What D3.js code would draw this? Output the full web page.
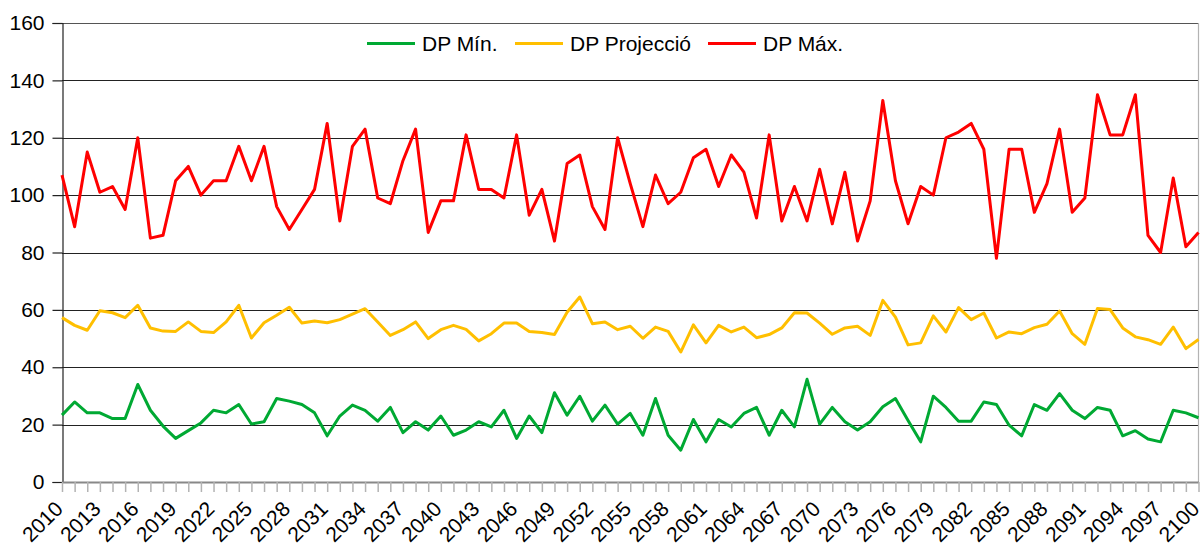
<!DOCTYPE html>
<html>
<head>
<meta charset="utf-8">
<script src="https://cdn.jsdelivr.net/npm/d3@7/dist/d3.min.js"></script>
<style>
  html, body { margin: 0; padding: 0; background: #fff; }
  svg { display: block; font-family: "Liberation Sans", Arial, sans-serif; }
</style>
</head>
<body>
<svg id="chart" width="1203" height="547"></svg>
<script>
// Years 2010–2100
const years = d3.range(2010, 2101);

const dpMin = [
  23.3, 27.9, 24.1, 24.1, 22.1, 22.1, 34.0, 25.0, 19.5, 15.2,
  17.9, 20.6, 25.0, 24.1, 27.0, 20.2, 21.0, 29.1, 28.2, 27.0,
  24.1, 16.1, 23.0, 26.8, 25.0, 21.2, 26.0, 17.2, 21.0, 18.1,
  23.0, 16.3, 18.1, 21.0, 19.2, 25.0, 15.2, 23.0, 17.2, 31.1,
  23.3, 29.9, 21.2, 26.8, 20.2, 23.9, 16.3, 29.1, 16.3, 11.1,
  21.8, 14.0, 21.8, 19.2, 23.9, 26.0, 16.3, 25.0, 19.2, 35.8,
  20.2, 26.0, 21.0, 18.1, 21.0, 26.2, 29.1, 21.4, 14.0, 29.9,
  26.0, 21.2, 21.2, 27.9, 27.0, 19.8, 16.1, 27.0, 25.0, 30.8,
  25.0, 22.1, 26.0, 25.0, 16.1, 17.9, 15.0, 14.0, 25.0, 24.1,
  22.4
];

const dpProj = [
  57.3, 54.6, 52.9, 59.7, 59.0, 57.3, 61.6, 53.7, 52.6, 52.5,
  55.8, 52.5, 52.1, 55.8, 61.6, 50.2, 55.5, 58.1, 60.9, 55.4,
  56.1, 55.5, 56.6, 58.5, 60.4, 55.8, 51.1, 53.1, 55.8, 50.0,
  53.1, 54.6, 53.2, 49.2, 51.7, 55.4, 55.4, 52.5, 52.1, 51.4,
  59.2, 64.5, 55.2, 55.8, 53.1, 54.3, 50.1, 54.0, 52.5, 45.3,
  54.8, 48.5, 54.6, 52.3, 54.0, 50.3, 51.4, 53.7, 59.0, 58.9,
  55.4, 51.5, 53.7, 54.3, 51.1, 63.3, 57.5, 47.8, 48.5, 57.9,
  52.3, 60.8, 56.6, 58.9, 50.2, 52.3, 51.7, 53.8, 55.0, 59.6,
  51.7, 48.0, 60.5, 60.1, 53.7, 50.6, 49.6, 48.0, 54.0, 46.5,
  49.7
];

const dpMax = [
  107, 89, 115, 101, 103, 95, 120, 85, 86, 105,
  110, 100, 105, 105, 117, 105, 117, 96, 88, 95,
  102, 125, 91, 117, 123, 99, 97, 112, 123, 87,
  98, 98, 121, 102, 102, 99, 121, 93, 102, 84,
  111, 114, 96, 88, 120, 104, 89, 107, 97, 101,
  113, 116, 103, 114, 108, 92, 121, 91, 103, 91,
  109, 90, 108, 84, 98, 133, 105, 90, 103, 100,
  120, 122, 125, 116, 78, 116, 116, 94, 104, 123,
  94, 99, 135, 121, 121, 135, 86, 80, 106, 82,
  87
];

const yTicks = [0, 20, 40, 60, 80, 100, 120, 140, 160];
const xLabelYears = years.filter(y => (y - 2010) % 3 === 0 || y === 2100);

const seriesNames = ["DP Mín.", "DP Projecció", "DP Máx."];
const seriesColors = ["#00a933", "#ffbf00", "#ff0000"];
const seriesValues = [dpMin, dpProj, dpMax];

const svg = d3.select("#chart");
const plotLeft = 62, plotRight = 1198.5, plotTop = 23, plotBottom = 482;

const x = d3.scaleLinear().domain([2010, 2100]).range([plotLeft, plotRight]);
const y = d3.scaleLinear().domain([0, 160]).range([plotBottom, plotTop]);

// Horizontal gridlines
svg.append("g")
  .selectAll("line")
  .data(yTicks.filter(t => t > 0))
  .join("line")
  .attr("x1", plotLeft).attr("x2", plotRight)
  .attr("y1", d => Math.round(y(d)) + 0.5).attr("y2", d => Math.round(y(d)) + 0.5)
  .attr("stroke", d => d === 160 ? "#555" : "#222")
  .attr("stroke-width", 1.2);

// Right border
svg.append("line")
  .attr("x1", plotRight).attr("x2", plotRight)
  .attr("y1", plotTop).attr("y2", plotBottom)
  .attr("stroke", "#b3b3b3").attr("stroke-width", 1.2);

// Y axis
const yAxis = svg.append("g")
  .attr("transform", `translate(${plotLeft + 0.5},0)`)
  .call(d3.axisLeft(y).tickValues(yTicks).tickSize(10).tickPadding(8).tickFormat(d3.format("d")));
yAxis.select(".domain").attr("stroke", "#222").attr("stroke-width", 1.2);
yAxis.selectAll(".tick line").attr("stroke", "#222").attr("stroke-width", 1.2);
yAxis.selectAll("text")
  .attr("font-size", 21)
  .attr("fill", "#000")
  .attr("font-family", "Liberation Sans, Arial, sans-serif");

// X axis: one tick per year, labels every third year
const xAxis = svg.append("g")
  .attr("transform", `translate(0,${plotBottom})`)
  .call(d3.axisBottom(x).tickValues(years).tickSize(10).tickSizeOuter(0).tickFormat(""));
xAxis.select(".domain").attr("stroke", "#888").attr("stroke-width", 2);
xAxis.selectAll(".tick line").attr("stroke", "#b3b3b3").attr("stroke-width", 1.5);

svg.append("g")
  .selectAll("text")
  .data(xLabelYears)
  .join("text")
  .attr("transform", d => `translate(${x(d) - 9},${plotBottom + 17}) rotate(-45)`)
  .attr("text-anchor", "end")
  .attr("dy", "0.75em")
  .attr("font-size", 21)
  .attr("fill", "#000")
  .text(d => d);

// Series lines
const line = d3.line()
  .x((d, i) => x(years[i]))
  .y(d => y(d));

svg.append("g")
  .selectAll("path")
  .data(seriesValues)
  .join("path")
  .attr("d", d => line(d))
  .attr("fill", "none")
  .attr("stroke", (d, i) => seriesColors[i])
  .attr("stroke-width", 3)
  .attr("stroke-linejoin", "round");

// Legend
const legendX = [367, 515, 708];
const legend = svg.append("g");
seriesNames.forEach((name, i) => {
  legend.append("line")
    .attr("x1", legendX[i]).attr("x2", legendX[i] + 48)
    .attr("y1", 43.5).attr("y2", 43.5)
    .attr("stroke", seriesColors[i]).attr("stroke-width", 3);
  legend.append("text")
    .attr("x", legendX[i] + 55).attr("y", 43.5)
    .attr("dy", "0.35em")
    .attr("font-size", 21)
    .attr("fill", "#000")
    .text(name);
});
</script>
</body>
</html>
